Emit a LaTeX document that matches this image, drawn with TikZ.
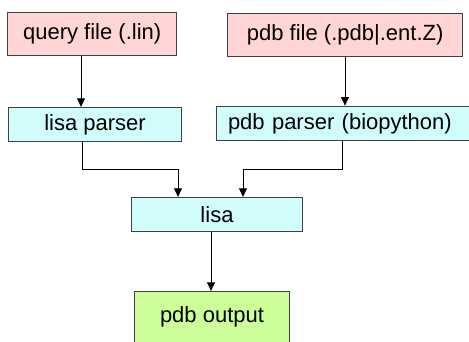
\documentclass[tikz,border=0pt]{standalone}
\usepackage{fontspec}
\setmainfont{Liberation Sans}
\usetikzlibrary{arrows.meta}
\definecolor{pinkfill}{HTML}{FFD5D5}
\definecolor{cyanfill}{HTML}{D0FCFC}
\definecolor{greenfill}{HTML}{CCFF99}
\definecolor{edgegray}{HTML}{404040}
\begin{document}
\begin{tikzpicture}[x=1pt,y=-1pt,
  box/.style={draw=edgegray,line width=0.9pt,rectangle,inner sep=0pt,
    font=\fontsize{22}{26}\selectfont,text=black},
  arr/.style={draw=black,line width=0.9pt,-{Triangle[length=8.5pt,width=8pt]}},
  conn/.style={draw=black,line width=0.9pt}]
\useasboundingbox (0,0) rectangle (469,341);
\node[box,fill=pinkfill,minimum width=169,minimum height=43] (qf) at (92.2,33.7) {query file (.lin)};
\node[box,fill=pinkfill,minimum width=235,minimum height=43] (pf) at (345.2,35) {pdb file (.pdb|.ent.Z)};
\node[box,fill=cyanfill,minimum width=173,minimum height=34.4] (lp) at (95,124.5) {lisa parser};
\node[box,fill=cyanfill,inner xsep=12pt,text width=240pt,align=left,minimum height=34.7] (pp) at (348,123.4) {pdb parser (biopython)};
\node[box,fill=cyanfill,minimum width=171.7,minimum height=34.4] (li) at (217,214.5) {lisa};
\node[box,fill=greenfill,minimum width=154.5,minimum height=52] (po) at (212,317.3) {pdb output};
% connector x positions
\coordinate (xa) at (81,0);
\coordinate (xb) at (345,0);
\coordinate (xc) at (82,0);
\coordinate (xd) at (178,0);
\coordinate (xe) at (342,0);
\coordinate (xf) at (243,0);
\coordinate (xg) at (211,0);
\coordinate (ym) at (0,169.5);
\draw[arr] (qf.south -| xa) -- (lp.north -| xa);
\draw[arr] (pf.south -| xb) -- (pp.north -| xb);
\draw[arr] (lp.south -| xc) -- (xc |- ym) -- (xd |- ym) -- (li.north -| xd);
\draw[arr] (pp.south -| xe) -- (xe |- ym) -- (xf |- ym) -- (li.north -| xf);
\draw[arr] (li.south -| xg) -- (po.north -| xg);
\end{tikzpicture}
\end{document}
